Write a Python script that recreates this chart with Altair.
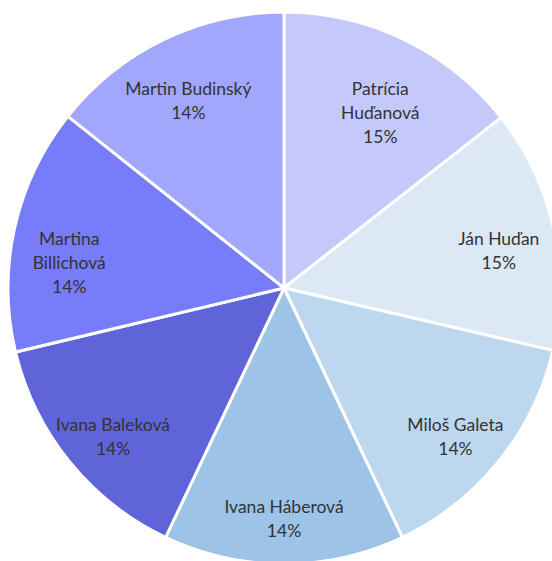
import altair as alt
import pandas as pd

names = ["Patrícia\nHuďanová", "Ján Huďan", "Miloš Galeta", "Ivana Háberová",
         "Ivana Baleková", "Martina\nBillichová", "Martin Budinský"]
values = [14.4, 14.2, 14.3, 14.1, 14.2, 14.4, 14.3]
pct_labels = ["15%", "15%", "14%", "14%", "14%", "14%", "14%"]
colors = ["#c5c8fb", "#dde8f5", "#bdd7ee", "#9dc3e6", "#5f64d9", "#777cfa", "#a1a7fd"]

df = pd.DataFrame({
    "name": names,
    "value": values,
    "order": list(range(len(names))),
})
df["label"] = [f"{n}\n{p}" for n, p in zip(names, pct_labels)]

base = alt.Chart(df).encode(
    theta=alt.Theta("value:Q", stack=True),
    order=alt.Order("order:Q"),
    x=alt.value(284),
    y=alt.value(288),
)

arcs = base.mark_arc(outerRadius=276, stroke="white", strokeWidth=3).encode(
    color=alt.Color("name:N", scale=alt.Scale(domain=names, range=colors), legend=None)
)

text = base.mark_text(radius=220, font="Lato", fontSize=17.5, color="#333333",
                      lineBreak="\n", lineHeight=24, align="center",
                      baseline="middle").encode(text="label:N")

chart = (arcs + text).properties(
    width=552, height=561, padding=0, autosize=alt.AutoSizeParams(type="none")
).configure_view(stroke=None)

chart.save("out.html", embed_options={"renderer": "svg", "actions": False})
